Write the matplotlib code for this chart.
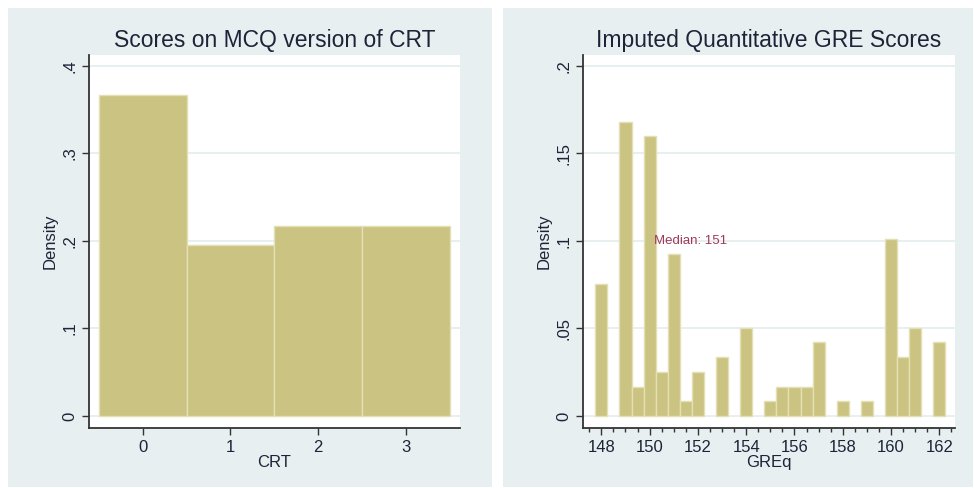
import matplotlib
matplotlib.use("Agg")
import matplotlib.pyplot as plt
from matplotlib.patches import Rectangle
from matplotlib.ticker import MultipleLocator

plt.rcParams['font.family'] = ['Liberation Sans', 'DejaVu Sans']

# Left panel data
crt_scores = [0, 1, 2, 3]
crt_density = [0.367, 0.195, 0.217, 0.217]
crt_yticks = [0, 0.1, 0.2, 0.3, 0.4]
crt_ylabels = ['0', '.1', '.2', '.3', '.4']

# Right panel data
gre_bins = [148, 149, 149.5, 150, 150.5, 151, 151.5, 152, 153, 154, 155, 155.5,
            156, 156.5, 157, 158, 159, 160, 160.5, 161, 162]
gre_density = [0.0756, 0.1681, 0.0168, 0.1597, 0.0252, 0.0924, 0.0084, 0.0252,
               0.0336, 0.0504, 0.0084, 0.0168, 0.0168, 0.0168, 0.0420, 0.0084,
               0.0084, 0.1008, 0.0336, 0.0504, 0.0420]
gre_bin_width = 0.5
gre_xticks = [148, 150, 152, 154, 156, 158, 160, 162]
gre_yticks = [0, 0.05, 0.1, 0.15, 0.2]
gre_ylabels = ['0', '.05', '.1', '.15', '.2']
median_value = 151

W, H = 974, 488
fig = plt.figure(figsize=(W / 100, H / 100), dpi=100, facecolor='white')

panel_bg = '#e8eff1'
grid_c = '#e6eef0'
bar_fc = '#cbc382'
bar_ec = '#e4e0b4'
text_c = '#1c2438'
spine_c = '#333333'

def fx(px):
    return px / W

def fy(py):
    return 1 - py / H

# panel backgrounds
fig.patches.append(Rectangle((fx(8), fy(487)), fx(492) - fx(8), fy(8) - fy(487),
                             transform=fig.transFigure, facecolor=panel_bg, edgecolor='none', zorder=-10))
fig.patches.append(Rectangle((fx(503), fy(487)), fx(973) - fx(503), fy(8) - fy(487),
                             transform=fig.transFigure, facecolor=panel_bg, edgecolor='none', zorder=-10))

def make_ax(x0, x1, y0, y1):
    ax = fig.add_axes([fx(x0), fy(y1), fx(x1) - fx(x0), fy(y0) - fy(y1)])
    ax.set_zorder(1)
    ax.set_facecolor('white')
    for s in ['top', 'right']:
        ax.spines[s].set_visible(False)
    for s in ['left', 'bottom']:
        ax.spines[s].set_color(spine_c)
        ax.spines[s].set_linewidth(1.3)
    ax.tick_params(axis='both', direction='out', length=5, width=1.0, color=spine_c,
                   labelcolor=text_c, labelsize=12)
    ax.tick_params(axis='y', labelrotation=90)
    ax.set_axisbelow(True)
    return ax

# Left
ax1 = make_ax(89, 460, 55, 428)
ax1.bar(crt_scores, crt_density, width=1.0, color=bar_fc, edgecolor=bar_ec, linewidth=1.0, zorder=2)
ax1.set_xlim(-0.612, 3.615)
ax1.set_ylim(-0.0137, 0.4122)
ax1.set_xticks(crt_scores)
ax1.set_yticks(crt_yticks)
ax1.set_yticklabels(crt_ylabels, va='center')
ax1.yaxis.grid(True, color=grid_c, linewidth=1.3)
ax1.set_xlabel('CRT', fontsize=12, color=text_c, labelpad=0)
ax1.set_ylabel('Density', fontsize=12, color=text_c, labelpad=3)
ax1.set_title('Scores on MCQ version of CRT', fontsize=16.5, color=text_c, pad=6)

# Right
ax2 = make_ax(583, 955, 55, 428)
ax2.bar(gre_bins, gre_density, width=gre_bin_width, color=bar_fc, edgecolor=bar_ec, linewidth=1.0, zorder=2)
ax2.set_xlim(147.24, 162.65)
ax2.set_ylim(-0.00685, 0.2061)
ax2.set_xticks(gre_xticks)
ax2.xaxis.set_minor_locator(MultipleLocator(0.5))
ax2.tick_params(axis='x', which='minor', length=3, width=1.0, color=spine_c)
ax2.set_yticks(gre_yticks)
ax2.set_yticklabels(gre_ylabels, va='center')
ax2.yaxis.grid(True, color=grid_c, linewidth=1.3)
ax2.set_xlabel('GREq', fontsize=12, color=text_c, labelpad=0)
ax2.set_ylabel('Density', fontsize=12, color=text_c, labelpad=3)
ax2.set_title('Imputed Quantitative GRE Scores', fontsize=16.5, color=text_c, pad=6)
ax2.text(150.2, 0.1, 'Median: %d' % median_value, fontsize=9.5, color='#a03a58',
         ha='left', va='center', zorder=3)

fig.savefig('out.png', dpi=100, facecolor='white')
